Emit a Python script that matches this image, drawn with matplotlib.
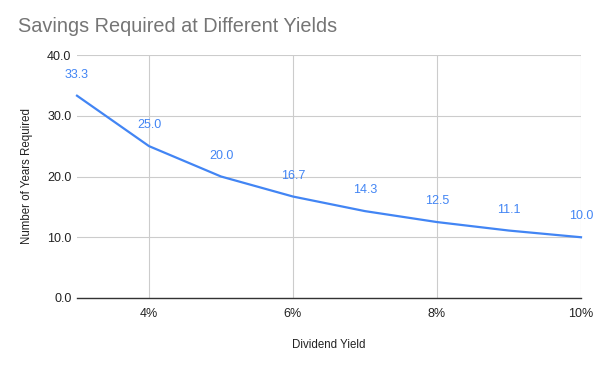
import matplotlib
matplotlib.use("Agg")
import matplotlib.pyplot as plt
from matplotlib.ticker import FuncFormatter

plt.rcParams["font.family"] = ["Liberation Sans", "DejaVu Sans"]

yields = [3, 4, 5, 6, 7, 8, 9, 10]
years = [33.3, 25.0, 20.0, 16.7, 14.3, 12.5, 11.1, 10.0]
x_ticks = [4, 6, 8, 10]
y_ticks = [0, 10, 20, 30, 40]

blue = "#4285f4"

fig = plt.figure(figsize=(6, 3.65), dpi=100)
ax = fig.add_axes([77 / 600, 1 - 298 / 365, 504 / 600, 243 / 365])

ax.plot(yields, years, color=blue, lw=1.6, zorder=3, clip_on=False)
for x, y in zip(yields, years):
    ax.annotate(f"{y:.1f}", (x, y), xytext=(0, 15), textcoords="offset points",
                ha="center", va="center", color=blue, fontsize=9)

ax.set_xlim(3, 10)
ax.set_ylim(0, 40)
ax.set_xticks(x_ticks)
ax.set_yticks(y_ticks)
ax.xaxis.set_major_formatter(FuncFormatter(lambda v, p: f"{v:.0f}%"))
ax.yaxis.set_major_formatter(FuncFormatter(lambda v, p: f"{v:.1f}"))
ax.grid(True, color="#cccccc", lw=0.8)
ax.set_axisbelow(True)
for s in ["top", "right", "left"]:
    ax.spines[s].set_visible(False)
ax.spines["bottom"].set_color("#333333")
ax.spines["bottom"].set_linewidth(1)
ax.tick_params(axis="both", length=0, labelsize=9, colors="#222222")
ax.tick_params(axis="x", pad=7)
ax.tick_params(axis="y", pad=4)

ax.set_xlabel("Dividend Yield", fontsize=8.3, color="#222222", labelpad=14)
ax.set_ylabel("Number of Years Required", fontsize=8.3, color="#222222", labelpad=10)

fig.text(18 / 600, 1 - 27 / 365, "Savings Required at Different Yields",
         fontsize=14.3, color="#757575", va="center", ha="left")

fig.savefig("out.png", dpi=100, facecolor="white")
